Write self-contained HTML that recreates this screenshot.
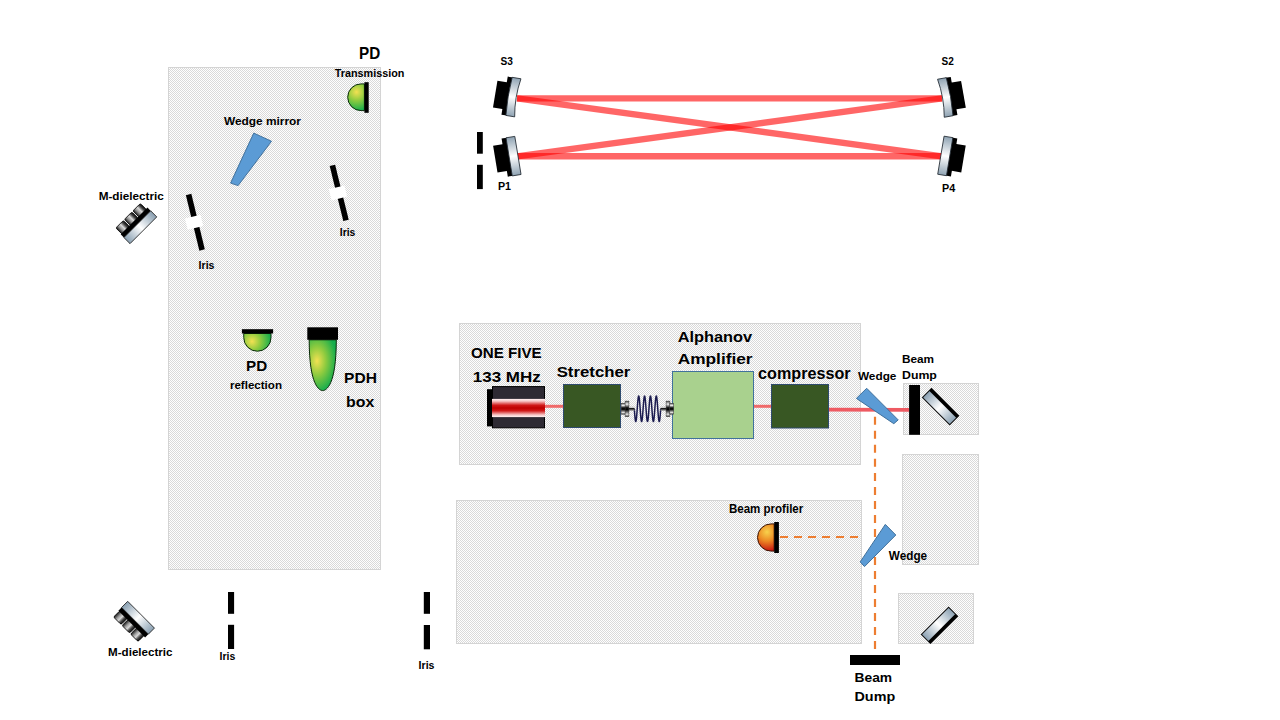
<!DOCTYPE html>
<html><head><meta charset="utf-8"><title>Optical setup</title>
<style>html,body{margin:0;padding:0;background:#fff;width:1280px;height:720px;overflow:hidden}
svg{display:block;position:absolute;left:0;top:0}
text{font-family:"Liberation Sans",sans-serif}</style></head>
<body><svg width="1280" height="720" viewBox="0 0 1280 720" font-family="Liberation Sans, sans-serif" fill="#000">
<defs>
 <pattern id="chk" width="2" height="2" patternUnits="userSpaceOnUse">
  <rect width="2" height="2" fill="#fefefe"/>
  <rect x="0" y="0" width="1" height="1" fill="#d9d9d9"/>
  <rect x="1" y="1" width="1" height="1" fill="#d9d9d9"/>
 </pattern>
 <linearGradient id="glassV" x1="0" y1="0" x2="0" y2="1">
  <stop offset="0" stop-color="#8fa3b3"/>
  <stop offset="0.5" stop-color="#ffffff"/>
  <stop offset="1" stop-color="#8fa3b3"/>
 </linearGradient>
 <linearGradient id="glassH" x1="0" y1="0" x2="1" y2="0">
  <stop offset="0" stop-color="#8aa0b2"/>
  <stop offset="0.5" stop-color="#ffffff"/>
  <stop offset="1" stop-color="#8aa0b2"/>
 </linearGradient>
 <linearGradient id="laserBand" x1="0" y1="0" x2="0" y2="1">
  <stop offset="0" stop-color="#fff2f2"/>
  <stop offset="0.12" stop-color="#f7c8c8"/>
  <stop offset="0.35" stop-color="#d01818"/>
  <stop offset="0.5" stop-color="#bf0000"/>
  <stop offset="0.65" stop-color="#d01818"/>
  <stop offset="0.88" stop-color="#f7c8c8"/>
  <stop offset="1" stop-color="#fff2f2"/>
 </linearGradient>
 <radialGradient id="grn" cx="0.3" cy="0.35" r="0.75">
  <stop offset="0" stop-color="#f4e04e"/>
  <stop offset="0.45" stop-color="#8ccc3c"/>
  <stop offset="1" stop-color="#18a84a"/>
 </radialGradient>
 <radialGradient id="org" cx="0.45" cy="0.3" r="0.8">
  <stop offset="0" stop-color="#f7d04a"/>
  <stop offset="0.45" stop-color="#ea8a22"/>
  <stop offset="1" stop-color="#c41010"/>
 </radialGradient>
 <linearGradient id="bump" x1="0" y1="0" x2="1" y2="0">
  <stop offset="0" stop-color="#1a1a1a"/>
  <stop offset="0.3" stop-color="#9a9a9a"/>
  <stop offset="0.55" stop-color="#d8d8d8"/>
  <stop offset="0.8" stop-color="#444"/>
  <stop offset="1" stop-color="#111"/>
 </linearGradient>
 <linearGradient id="conn" x1="0" y1="0" x2="0" y2="1">
  <stop offset="0" stop-color="#555"/>
  <stop offset="0.2" stop-color="#eeeeee"/>
  <stop offset="0.42" stop-color="#111"/>
  <stop offset="0.55" stop-color="#000"/>
  <stop offset="0.85" stop-color="#e0e0e0"/>
  <stop offset="1" stop-color="#444"/>
 </linearGradient>
</defs>

<rect x="168.5" y="67.5" width="212" height="502" fill="url(#chk)" stroke="#d4d4d4" stroke-width="1" shape-rendering="crispEdges"/>
<rect x="459.5" y="323.5" width="401" height="141" fill="url(#chk)" stroke="#d4d4d4" stroke-width="1" shape-rendering="crispEdges"/>
<rect x="456.5" y="500.5" width="405" height="143" fill="url(#chk)" stroke="#d4d4d4" stroke-width="1" shape-rendering="crispEdges"/>
<rect x="903.5" y="383.5" width="75" height="51" fill="url(#chk)" stroke="#d4d4d4" stroke-width="1" shape-rendering="crispEdges"/>
<rect x="902.5" y="454.5" width="76" height="110" fill="url(#chk)" stroke="#d4d4d4" stroke-width="1" shape-rendering="crispEdges"/>
<rect x="898.5" y="593.5" width="75" height="50" fill="url(#chk)" stroke="#d4d4d4" stroke-width="1" shape-rendering="crispEdges"/>
<line x1="517" y1="98.4" x2="942" y2="98.4" stroke="#ff0000" stroke-width="6.4" stroke-opacity="0.6" />
<line x1="517" y1="156.3" x2="942" y2="156.3" stroke="#ff0000" stroke-width="6.4" stroke-opacity="0.6" />
<line x1="517" y1="98.4" x2="942" y2="156.3" stroke="#ff0000" stroke-width="6.4" stroke-opacity="0.6" />
<line x1="517" y1="156.3" x2="942" y2="98.4" stroke="#ff0000" stroke-width="6.4" stroke-opacity="0.6" />
<g transform="translate(511.3,96.75) rotate(9.4) scale(1,1)"><rect x="-16.3" y="-13.6" width="11" height="27.2" fill="#000"/><rect x="-6.8" y="-19.3" width="5.5" height="38.6" fill="#000"/><path d="M-2.3,-19.3 L6.6,-19.3 Q3.2,0 6.6,19.3 L-2.3,19.3 Q-4,0 -2.3,-19.3Z" fill="url(#glassV)" stroke="#202830" stroke-width="0.8"/></g>
<g transform="translate(947.4,97.1) rotate(-10.0) scale(-1,1)"><rect x="-16.3" y="-13.6" width="11" height="27.2" fill="#000"/><rect x="-6.8" y="-19.3" width="5.5" height="38.6" fill="#000"/><path d="M-2.3,-19.3 L6.6,-19.3 Q3.2,0 6.6,19.3 L-2.3,19.3 Q-4,0 -2.3,-19.3Z" fill="url(#glassV)" stroke="#202830" stroke-width="0.8"/></g>
<g transform="translate(511.4,156.5) rotate(-9.3) scale(1,1)"><rect x="-16.3" y="-13.6" width="11" height="27.2" fill="#000"/><rect x="-6.8" y="-19.3" width="5.5" height="38.6" fill="#000"/><rect x="-2.3" y="-19.3" width="8.9" height="38.6" fill="url(#glassV)" stroke="#202830" stroke-width="0.8"/></g>
<g transform="translate(947.4,156.3) rotate(9.5) scale(-1,1)"><rect x="-16.3" y="-13.6" width="11" height="27.2" fill="#000"/><rect x="-6.8" y="-19.3" width="5.5" height="38.6" fill="#000"/><rect x="-2.3" y="-19.3" width="8.9" height="38.6" fill="url(#glassV)" stroke="#202830" stroke-width="0.8"/></g>
<rect x="477" y="132" width="5.8" height="21.7" fill="#000"/>
<rect x="477" y="164.8" width="5.8" height="24.3" fill="#000"/>
<radialGradient id="g1" gradientUnits="userSpaceOnUse" cx="356.5" cy="92" r="19"><stop offset="0" stop-color="#f3e152"/><stop offset="0.45" stop-color="#8fcb3f"/><stop offset="1" stop-color="#16ad4c"/></radialGradient>
<path d="M364.4,83.9 L361.05,83.9 A13.35,13.35 0 0 0 361.05,110.6 L364.4,110.6 Z" fill="url(#g1)" stroke="#0a2a0a" stroke-width="1"/>
<rect x="364.4" y="82.2" width="4.3" height="30.6" fill="#000"/>
<polygon points="253.75,133.1 271.5,141.25 238.1,185.6 230.6,183.1" fill="#5b9bd5" stroke="#41719c" stroke-width="1"/>
<g transform="translate(195.35,222.25) rotate(-13.67)"><rect x="-2.8" y="-28.56" width="5.6" height="57.12" fill="#000"/><rect x="-9.2" y="-6" width="16" height="11.5" fill="#fff"/></g>
<g transform="translate(339.20,192.90) rotate(-13.89)"><rect x="-2.8" y="-28.33" width="5.6" height="56.66" fill="#000"/><rect x="-9.2" y="-6" width="16" height="11.5" fill="#fff"/></g>
<radialGradient id="g2" gradientUnits="userSpaceOnUse" cx="252" cy="341.4" r="19"><stop offset="0" stop-color="#f3e152"/><stop offset="0.45" stop-color="#8fcb3f"/><stop offset="1" stop-color="#16ad4c"/></radialGradient>
<path d="M243.75,333.5 L243.75,337.6 A13.6,13.6 0 0 0 271,337.6 L271,333.5 Z" fill="url(#g2)" stroke="#0a2a0a" stroke-width="1"/>
<rect x="241.9" y="329.2" width="31.2" height="4.3" fill="#000"/>
<radialGradient id="g3" gradientUnits="userSpaceOnUse" cx="317" cy="361" r="26" gradientTransform="translate(317 361) scale(0.75 1.2) translate(-317 -361)"><stop offset="0" stop-color="#f3e152"/><stop offset="0.45" stop-color="#8fcb3f"/><stop offset="1" stop-color="#16ad4c"/></radialGradient>
<path d="M309.2,339.8 C309.2,385.8 319.5,390.6 322.75,390.6 C326,390.6 336.3,385.8 336.3,339.8 Z" fill="url(#g3)" stroke="#0a2a0a" stroke-width="1"/>
<rect x="307.3" y="327.3" width="30.7" height="12.5" fill="#000"/>
<g transform="translate(137.3,224.2) rotate(-45) scale(1,1)"><rect x="-17.8" y="-12.5" width="10.6" height="9" rx="1.5" fill="url(#bump)" stroke="#000" stroke-width="0.8"/><rect x="-5.8" y="-12.5" width="10.6" height="9" rx="1.5" fill="url(#bump)" stroke="#000" stroke-width="0.8"/><rect x="6.2" y="-12.5" width="10.6" height="9" rx="1.5" fill="url(#bump)" stroke="#000" stroke-width="0.8"/><rect x="-18.9" y="-4.6" width="37.8" height="4.8" fill="#000"/><rect x="-18.9" y="0" width="37.8" height="8.6" fill="url(#glassH)" stroke="#1a1a1a" stroke-width="0.8"/></g>
<g transform="translate(135.0,620.8) rotate(45) scale(1,-1)"><rect x="-17.8" y="-12.5" width="10.6" height="9" rx="1.5" fill="url(#bump)" stroke="#000" stroke-width="0.8"/><rect x="-5.8" y="-12.5" width="10.6" height="9" rx="1.5" fill="url(#bump)" stroke="#000" stroke-width="0.8"/><rect x="6.2" y="-12.5" width="10.6" height="9" rx="1.5" fill="url(#bump)" stroke="#000" stroke-width="0.8"/><rect x="-18.9" y="-4.6" width="37.8" height="4.8" fill="#000"/><rect x="-18.9" y="0" width="37.8" height="8.6" fill="url(#glassH)" stroke="#1a1a1a" stroke-width="0.8"/></g>
<rect x="228" y="592" width="6.1" height="21.8" fill="#000"/>
<rect x="228" y="624.8" width="6.1" height="24.2" fill="#000"/>
<rect x="423.8" y="592" width="6.2" height="21.8" fill="#000"/>
<rect x="423.8" y="625" width="6.2" height="24.3" fill="#000"/>
<line x1="544" y1="406.3" x2="563" y2="406.3" stroke="#f06a6a" stroke-width="3" stroke-opacity="1" />
<line x1="753" y1="406.3" x2="771" y2="406.3" stroke="#f06a6a" stroke-width="3" stroke-opacity="1" />
<line x1="829" y1="409.6" x2="909" y2="409.8" stroke="#ee5a62" stroke-width="3.8" stroke-opacity="1" />
<rect x="487" y="389.2" width="5.5" height="37.2" fill="#000"/>
<rect x="492.5" y="386.6" width="52" height="41.2" fill="#2e2a33" stroke="#000" stroke-width="1"/>
<rect x="492" y="398.9" width="53" height="18.2" fill="url(#laserBand)"/>
<rect x="563.5" y="384.5" width="57" height="43" fill="#385723" stroke="#2f4b6e" stroke-width="1"/>
<rect x="672.5" y="371.5" width="81" height="67" fill="#a9d18e" stroke="#41719c" stroke-width="1"/>
<rect x="771.5" y="384.5" width="57" height="43.5" fill="#385723" stroke="#2f4b6e" stroke-width="1"/>
<path d="M634.30,408.80 L634.35,409.52 L634.41,410.23 L634.46,410.94 L634.51,411.65 L634.56,412.34 L634.62,413.03 L634.67,413.70 L634.72,414.35 L634.78,414.99 L634.83,415.61 L634.88,416.20 L634.93,416.77 L634.99,417.32 L635.04,417.84 L635.09,418.33 L635.14,418.79 L635.20,419.21 L635.25,419.61 L635.30,419.97 L635.36,420.29 L635.41,420.58 L635.46,420.83 L635.51,421.04 L635.57,421.21 L635.62,421.34 L635.67,421.44 L635.73,421.49 L635.78,421.50 L635.83,421.47 L635.88,421.40 L635.94,421.29 L635.99,421.14 L636.04,420.95 L636.10,420.72 L636.15,420.46 L636.20,420.15 L636.25,419.81 L636.31,419.44 L636.36,419.03 L636.41,418.59 L636.46,418.11 L636.52,417.61 L636.57,417.08 L636.62,416.52 L636.68,415.94 L636.73,415.33 L636.78,414.71 L636.83,414.06 L636.89,413.40 L636.94,412.72 L636.99,412.04 L637.05,411.34 L637.10,410.63 L637.15,409.92 L637.20,409.20 L637.26,408.48 L637.31,407.76 L637.36,407.05 L637.42,406.34 L637.47,405.64 L637.52,404.95 L637.57,404.27 L637.63,403.61 L637.68,402.96 L637.73,402.34 L637.78,401.73 L637.84,401.14 L637.89,400.58 L637.94,400.05 L638.00,399.54 L638.05,399.07 L638.10,398.62 L638.15,398.21 L638.21,397.83 L638.26,397.48 L638.31,397.18 L638.37,396.91 L638.42,396.67 L638.47,396.48 L638.52,396.32 L638.58,396.21 L638.63,396.14 L638.68,396.10 L638.74,396.11 L638.79,396.16 L638.84,396.24 L638.89,396.37 L638.95,396.54 L639.00,396.75 L639.05,396.99 L639.10,397.27 L639.16,397.59 L639.21,397.95 L639.26,398.34 L639.32,398.77 L639.37,399.22 L639.42,399.71 L639.47,400.22 L639.53,400.77 L639.58,401.34 L639.63,401.93 L639.69,402.54 L639.74,403.18 L639.79,403.83 L639.84,404.50 L639.90,405.18 L639.95,405.87 L640.00,406.58 L640.06,407.29 L640.11,408.00 L640.16,408.72 L640.21,409.44 L640.27,410.15 L640.32,410.87 L640.37,411.57 L640.42,412.27 L640.48,412.95 L640.53,413.62 L640.58,414.28 L640.64,414.92 L640.69,415.54 L640.74,416.14 L640.79,416.71 L640.85,417.26 L640.90,417.78 L640.95,418.27 L641.01,418.74 L641.06,419.17 L641.11,419.57 L641.16,419.93 L641.22,420.26 L641.27,420.55 L641.32,420.80 L641.38,421.02 L641.43,421.19 L641.48,421.33 L641.53,421.43 L641.59,421.48 L641.64,421.50 L641.69,421.47 L641.74,421.41 L641.80,421.30 L641.85,421.16 L641.90,420.97 L641.96,420.75 L642.01,420.49 L642.06,420.19 L642.11,419.85 L642.17,419.48 L642.22,419.07 L642.27,418.64 L642.33,418.17 L642.38,417.67 L642.43,417.14 L642.48,416.58 L642.54,416.00 L642.59,415.40 L642.64,414.78 L642.70,414.14 L642.75,413.48 L642.80,412.80 L642.85,412.11 L642.91,411.41 L642.96,410.71 L643.01,410.00 L643.06,409.28 L643.12,408.56 L643.17,407.84 L643.22,407.13 L643.28,406.42 L643.33,405.72 L643.38,405.03 L643.43,404.35 L643.49,403.68 L643.54,403.03 L643.59,402.40 L643.65,401.79 L643.70,401.21 L643.75,400.64 L643.80,400.11 L643.86,399.60 L643.91,399.12 L643.96,398.67 L644.02,398.25 L644.07,397.87 L644.12,397.52 L644.17,397.21 L644.23,396.93 L644.28,396.70 L644.33,396.50 L644.38,396.34 L644.44,396.22 L644.49,396.14 L644.54,396.10 L644.60,396.11 L644.65,396.15 L644.70,396.23 L644.75,396.36 L644.81,396.52 L644.86,396.72 L644.91,396.96 L644.97,397.24 L645.02,397.56 L645.07,397.91 L645.12,398.30 L645.18,398.72 L645.23,399.17 L645.28,399.65 L645.34,400.16 L645.39,400.70 L645.44,401.27 L645.49,401.86 L645.55,402.47 L645.60,403.11 L645.65,403.76 L645.70,404.42 L645.76,405.10 L645.81,405.80 L645.86,406.50 L645.92,407.21 L645.97,407.92 L646.02,408.64 L646.07,409.36 L646.13,410.07 L646.18,410.79 L646.23,411.49 L646.29,412.19 L646.34,412.88 L646.39,413.55 L646.44,414.21 L646.50,414.85 L646.55,415.47 L646.60,416.07 L646.66,416.65 L646.71,417.20 L646.76,417.72 L646.81,418.22 L646.87,418.69 L646.92,419.12 L646.97,419.52 L647.02,419.89 L647.08,420.22 L647.13,420.52 L647.18,420.78 L647.24,421.00 L647.29,421.18 L647.34,421.32 L647.39,421.42 L647.45,421.48 L647.50,421.50 L647.55,421.48 L647.61,421.42 L647.66,421.32 L647.71,421.18 L647.76,421.00 L647.82,420.78 L647.87,420.52 L647.92,420.22 L647.98,419.89 L648.03,419.52 L648.08,419.12 L648.13,418.69 L648.19,418.22 L648.24,417.72 L648.29,417.20 L648.34,416.65 L648.40,416.07 L648.45,415.47 L648.50,414.85 L648.56,414.21 L648.61,413.55 L648.66,412.88 L648.71,412.19 L648.77,411.49 L648.82,410.79 L648.87,410.07 L648.93,409.36 L648.98,408.64 L649.03,407.92 L649.08,407.21 L649.14,406.50 L649.19,405.80 L649.24,405.10 L649.30,404.42 L649.35,403.76 L649.40,403.11 L649.45,402.47 L649.51,401.86 L649.56,401.27 L649.61,400.70 L649.66,400.16 L649.72,399.65 L649.77,399.17 L649.82,398.72 L649.88,398.30 L649.93,397.91 L649.98,397.56 L650.03,397.24 L650.09,396.96 L650.14,396.72 L650.19,396.52 L650.25,396.36 L650.30,396.23 L650.35,396.15 L650.40,396.11 L650.46,396.10 L650.51,396.14 L650.56,396.22 L650.62,396.34 L650.67,396.50 L650.72,396.70 L650.77,396.93 L650.83,397.21 L650.88,397.52 L650.93,397.87 L650.98,398.25 L651.04,398.67 L651.09,399.12 L651.14,399.60 L651.20,400.11 L651.25,400.64 L651.30,401.21 L651.35,401.79 L651.41,402.40 L651.46,403.03 L651.51,403.68 L651.57,404.35 L651.62,405.03 L651.67,405.72 L651.72,406.42 L651.78,407.13 L651.83,407.84 L651.88,408.56 L651.94,409.28 L651.99,410.00 L652.04,410.71 L652.09,411.41 L652.15,412.11 L652.20,412.80 L652.25,413.48 L652.30,414.14 L652.36,414.78 L652.41,415.40 L652.46,416.00 L652.52,416.58 L652.57,417.14 L652.62,417.67 L652.67,418.17 L652.73,418.64 L652.78,419.07 L652.83,419.48 L652.89,419.85 L652.94,420.19 L652.99,420.49 L653.04,420.75 L653.10,420.97 L653.15,421.16 L653.20,421.30 L653.26,421.41 L653.31,421.47 L653.36,421.50 L653.41,421.48 L653.47,421.43 L653.52,421.33 L653.57,421.19 L653.62,421.02 L653.68,420.80 L653.73,420.55 L653.78,420.26 L653.84,419.93 L653.89,419.57 L653.94,419.17 L653.99,418.74 L654.05,418.27 L654.10,417.78 L654.15,417.26 L654.21,416.71 L654.26,416.14 L654.31,415.54 L654.36,414.92 L654.42,414.28 L654.47,413.62 L654.52,412.95 L654.58,412.27 L654.63,411.57 L654.68,410.87 L654.73,410.15 L654.79,409.44 L654.84,408.72 L654.89,408.00 L654.94,407.29 L655.00,406.58 L655.05,405.87 L655.10,405.18 L655.16,404.50 L655.21,403.83 L655.26,403.18 L655.31,402.54 L655.37,401.93 L655.42,401.34 L655.47,400.77 L655.53,400.22 L655.58,399.71 L655.63,399.22 L655.68,398.77 L655.74,398.34 L655.79,397.95 L655.84,397.59 L655.90,397.27 L655.95,396.99 L656.00,396.75 L656.05,396.54 L656.11,396.37 L656.16,396.24 L656.21,396.16 L656.26,396.11 L656.32,396.10 L656.37,396.14 L656.42,396.21 L656.48,396.32 L656.53,396.48 L656.58,396.67 L656.63,396.91 L656.69,397.18 L656.74,397.48 L656.79,397.83 L656.85,398.21 L656.90,398.62 L656.95,399.07 L657.00,399.54 L657.06,400.05 L657.11,400.58 L657.16,401.14 L657.22,401.73 L657.27,402.34 L657.32,402.96 L657.37,403.61 L657.43,404.27 L657.48,404.95 L657.53,405.64 L657.58,406.34 L657.64,407.05 L657.69,407.76 L657.74,408.48 L657.80,409.20 L657.85,409.92 L657.90,410.63 L657.95,411.34 L658.01,412.04 L658.06,412.72 L658.11,413.40 L658.17,414.06 L658.22,414.71 L658.27,415.33 L658.32,415.94 L658.38,416.52 L658.43,417.08 L658.48,417.61 L658.54,418.11 L658.59,418.59 L658.64,419.03 L658.69,419.44 L658.75,419.81 L658.80,420.15 L658.85,420.46 L658.90,420.72 L658.96,420.95 L659.01,421.14 L659.06,421.29 L659.12,421.40 L659.17,421.47 L659.22,421.50 L659.27,421.49 L659.33,421.44 L659.38,421.34 L659.43,421.21 L659.49,421.04 L659.54,420.83 L659.59,420.58 L659.64,420.29 L659.70,419.97 L659.75,419.61 L659.80,419.21 L659.86,418.79 L659.91,418.33 L659.96,417.84 L660.01,417.32 L660.07,416.77 L660.12,416.20 L660.17,415.61 L660.22,414.99 L660.28,414.35 L660.33,413.70 L660.38,413.03 L660.44,412.34 L660.49,411.65 L660.54,410.94 L660.59,410.23 L660.65,409.52 L660.70,408.80" fill="none" stroke="#1b1b4f" stroke-width="1.5"/>
<rect x="628.5" y="406.9" width="6" height="3.9" fill="url(#conn)"/>
<rect x="660.5" y="406.9" width="6" height="3.9" fill="url(#conn)"/>
<rect x="621.1" y="403.2" width="4.2" height="11" fill="url(#conn)" stroke="#333" stroke-width="0.5"/>
<rect x="625.1" y="401.1" width="3.8" height="15.6" fill="url(#conn)" stroke="#333" stroke-width="0.5"/>
<rect x="666.1" y="401.1" width="3.8" height="15.6" fill="url(#conn)" stroke="#333" stroke-width="0.5"/>
<rect x="669.8" y="403.2" width="3.9" height="11" fill="url(#conn)" stroke="#333" stroke-width="0.5"/>
<polygon points="856.4,398.4 866.7,388.3 898.2,419.9 893.8,423.7" fill="#5b9bd5" stroke="#41719c" stroke-width="1"/>
<rect x="909.1" y="385" width="10.9" height="49.8" fill="#000"/>
<g transform="translate(940.6,406.6) rotate(45)"><rect x="-19.25" y="-6.35" width="38.5" height="12.7" fill="url(#glassH)" stroke="#111" stroke-width="1"/><rect x="-19.25" y="-6.35" width="38.5" height="3.2" fill="#000"/></g>
<g transform="translate(939.5,625.3) rotate(135)"><rect x="-19.25" y="-6.35" width="38.5" height="12.7" fill="url(#glassH)" stroke="#111" stroke-width="1"/><rect x="-19.25" y="-6.35" width="38.5" height="3.2" fill="#000"/></g>
<line x1="875" y1="416.8" x2="875" y2="649" stroke="#ed7d31" stroke-width="2.2" stroke-dasharray="8 6.02"/>
<line x1="780" y1="537" x2="858" y2="537" stroke="#ed7d31" stroke-width="2.2" stroke-dasharray="8 6"/>
<radialGradient id="o1" gradientUnits="userSpaceOnUse" cx="767" cy="532" r="20"><stop offset="0" stop-color="#f8d24c"/><stop offset="0.45" stop-color="#ec8a24"/><stop offset="1" stop-color="#c40c10"/></radialGradient>
<path d="M774.2,523.9 L771.1,523.9 A13.6,13.6 0 0 0 771.1,551.1 L774.2,551.1 Z" fill="url(#o1)" stroke="#3a1000" stroke-width="1"/>
<rect x="774.2" y="522" width="4.7" height="31" fill="#000"/>
<polygon points="885.3,524.4 895.8,535 864.5,566.6 860.2,561.9" fill="#5b9bd5" stroke="#41719c" stroke-width="1"/>
<rect x="850" y="655" width="50" height="10" fill="#000"/>
<text x="359.0" y="58.7" font-size="15.84" font-weight="bold" textLength="21.2" lengthAdjust="spacingAndGlyphs">PD</text>
<text x="334.7" y="76.7" font-size="11.05" font-weight="bold" textLength="69.7" lengthAdjust="spacingAndGlyphs">Transmission</text>
<text x="223.95" y="125" font-size="11.77" font-weight="bold" textLength="77.0" lengthAdjust="spacingAndGlyphs">Wedge mirror</text>
<text x="98.7" y="200" font-size="11.63" font-weight="bold" textLength="65.2" lengthAdjust="spacingAndGlyphs">M-dielectric</text>
<text x="198.6" y="268.5" font-size="11.05" font-weight="bold" textLength="15.85" lengthAdjust="spacingAndGlyphs">Iris</text>
<text x="339.8" y="235.6" font-size="10.03" font-weight="bold" textLength="15.5" lengthAdjust="spacingAndGlyphs">Iris</text>
<text x="246.1" y="370.5" font-size="15.12" font-weight="bold" textLength="21.1" lengthAdjust="spacingAndGlyphs">PD</text>
<text x="229.9" y="388.75" font-size="11.05" font-weight="bold" textLength="52.1" lengthAdjust="spacingAndGlyphs">reflection</text>
<text x="344.1" y="383.4" font-size="15.41" font-weight="bold" textLength="32.8" lengthAdjust="spacingAndGlyphs">PDH</text>
<text x="346.1" y="406.5" font-size="15.41" font-weight="bold" textLength="28.2" lengthAdjust="spacingAndGlyphs">box</text>
<text x="500.5" y="64.6" font-size="10.17" font-weight="bold" textLength="12.4" lengthAdjust="spacingAndGlyphs">S3</text>
<text x="941.6" y="64.8" font-size="10.17" font-weight="bold" textLength="12.3" lengthAdjust="spacingAndGlyphs">S2</text>
<text x="497.9" y="190.3" font-size="10.17" font-weight="bold" textLength="13.1" lengthAdjust="spacingAndGlyphs">P1</text>
<text x="942.0" y="191.6" font-size="10.17" font-weight="bold" textLength="13.2" lengthAdjust="spacingAndGlyphs">P4</text>
<text x="471.1" y="358.3" font-size="15.26" font-weight="bold" textLength="70.6" lengthAdjust="spacingAndGlyphs">ONE FIVE</text>
<text x="472.8" y="381.5" font-size="14.68" font-weight="bold" textLength="68.0" lengthAdjust="spacingAndGlyphs">133 MHz</text>
<text x="556.7" y="376.5" font-size="14.53" font-weight="bold" textLength="73.6" lengthAdjust="spacingAndGlyphs">Stretcher</text>
<text x="677.7" y="342" font-size="14.83" font-weight="bold" textLength="74.5" lengthAdjust="spacingAndGlyphs">Alphanov</text>
<text x="677.7" y="364.2" font-size="14.39" font-weight="bold" textLength="74.9" lengthAdjust="spacingAndGlyphs">Amplifier</text>
<text x="758.1" y="378.6" font-size="16.57" font-weight="bold" textLength="92.5" lengthAdjust="spacingAndGlyphs">compressor</text>
<text x="857.95" y="380.4" font-size="11.05" font-weight="bold" textLength="38.5" lengthAdjust="spacingAndGlyphs">Wedge</text>
<text x="902.0" y="362.8" font-size="11.77" font-weight="bold" textLength="32.1" lengthAdjust="spacingAndGlyphs">Beam</text>
<text x="902.0" y="379" font-size="11.77" font-weight="bold" textLength="34.9" lengthAdjust="spacingAndGlyphs">Dump</text>
<text x="728.9" y="513.1" font-size="12.06" font-weight="bold" textLength="74.4" lengthAdjust="spacingAndGlyphs">Beam profiler</text>
<text x="888.8" y="560" font-size="11.92" font-weight="bold" textLength="38.3" lengthAdjust="spacingAndGlyphs">Wedge</text>
<text x="854.5" y="681.7" font-size="12.06" font-weight="bold" textLength="37.6" lengthAdjust="spacingAndGlyphs">Beam</text>
<text x="854.5" y="701.3" font-size="12.06" font-weight="bold" textLength="40.7" lengthAdjust="spacingAndGlyphs">Dump</text>
<text x="108.1" y="656.4" font-size="10.90" font-weight="bold" textLength="64.4" lengthAdjust="spacingAndGlyphs">M-dielectric</text>
<text x="219.6" y="659.75" font-size="10.54" font-weight="bold" textLength="15.7" lengthAdjust="spacingAndGlyphs">Iris</text>
<text x="418.6" y="668.75" font-size="11.26" font-weight="bold" textLength="15.9" lengthAdjust="spacingAndGlyphs">Iris</text></svg></body></html>
